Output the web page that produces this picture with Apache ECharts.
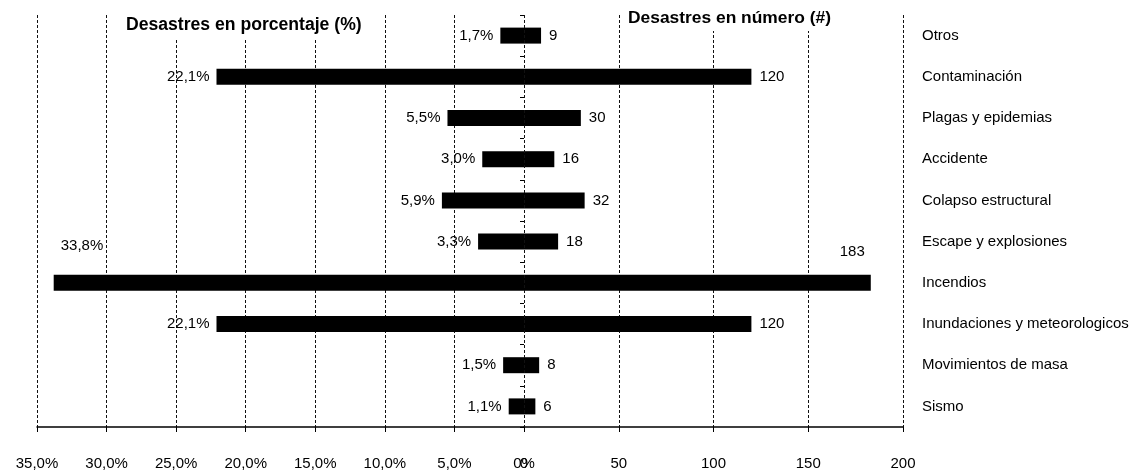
<!DOCTYPE html>
<html>
<head>
<meta charset="utf-8">
<script src="https://cdn.jsdelivr.net/npm/echarts@6/dist/echarts.min.js"></script>
<style>
html,body{margin:0;padding:0;background:#fff;}
#chart{width:1136px;height:472px;}
</style>
</head>
<body>
<div id="chart"></div>
<script>
// Data (top to bottom)
const categories = ['Otros','Contaminación','Plagas y epidemias','Accidente','Colapso estructural','Escape y explosiones','Incendios','Inundaciones y meteorologicos','Movimientos de masa','Sismo'];
const percentValues = [1.7, 22.1, 5.5, 3.0, 5.9, 3.3, 33.8, 22.1, 1.5, 1.1];
const countValues = [9, 120, 30, 16, 32, 18, 183, 120, 8, 6];
const percentTicks = {min: 0, max: 35, interval: 5};
const countTicks = {min: 0, max: 200, interval: 50};
const titlePercent = 'Desastres en porcentaje (%)';
const titleCount = 'Desastres en número (#)';

const FONT = '"Liberation Sans Narrow", "Liberation Sans", sans-serif';
const fmtPct = v => v.toFixed(1).replace('.', ',') + '%';

const chart = echarts.init(document.getElementById('chart'));
const splitStyle = {show: true, showMinLine: true, showMaxLine: true,
                    lineStyle: {color: '#111', width: 1, type: [3, 2]}};
const L = 37, Z = 524, R = 903, T = 15, B = 427;

const pctData = percentValues.map((v, i) => {
  const item = {value: v};
  if (categories[i] === 'Incendios') {
    item.label = {position: 'insideLeft', distance: 7, offset: [0, -37], color: '#000'};
  }
  return item;
});
const cntData = countValues.map((v, i) => {
  const item = {value: v};
  if (categories[i] === 'Incendios') {
    item.label = {position: 'insideRight', distance: 6, offset: [0, -31], color: '#000'};
  }
  return item;
});

chart.setOption({
  animation: false,
  backgroundColor: '#fff',
  textStyle: {fontFamily: FONT},
  title: [
    {text: titlePercent, left: 122, top: 14, padding: [2, 4, 4, 4], backgroundColor: '#fff',
     textStyle: {fontFamily: FONT, fontWeight: 'bold', fontSize: 17.6, color: '#000'}},
    {text: titleCount, left: 624, top: 8, padding: [2, 4, 4, 4], backgroundColor: '#fff',
     textStyle: {fontFamily: FONT, fontWeight: 'bold', fontSize: 17.4, color: '#000'}}
  ],
  grid: [
    {left: L, width: Z - L, top: T, height: B - T},
    {left: Z, width: R - Z, top: T, height: B - T}
  ],
  xAxis: [
    {type: 'value', gridIndex: 0, inverse: true, min: percentTicks.min, max: percentTicks.max, interval: percentTicks.interval,
     axisLine: {show: true, lineStyle: {color: '#000', width: 1.5}},
     axisTick: {show: true, length: 5, lineStyle: {color: '#000'}},
     splitLine: splitStyle,
     axisLabel: {margin: 29, fontSize: 15, color: '#000', fontFamily: FONT,
                 formatter: v => v === 0 ? '0%' : fmtPct(v)}},
    {type: 'value', gridIndex: 1, min: countTicks.min, max: countTicks.max, interval: countTicks.interval,
     axisLine: {show: true, lineStyle: {color: '#000', width: 1.5}},
     axisTick: {show: true, length: 5, lineStyle: {color: '#000'}},
     splitLine: splitStyle,
     axisLabel: {margin: 29, fontSize: 15, color: '#000', fontFamily: FONT}}
  ],
  yAxis: [
    {type: 'category', gridIndex: 0, data: categories, inverse: true,
     axisLine: {show: false}, axisTick: {show: false}, axisLabel: {show: false}},
    {type: 'category', gridIndex: 1, data: categories, inverse: true, position: 'left',
     axisLine: {show: false, onZero: false},
     axisTick: {show: true, length: 4, lineStyle: {color: '#000', type: 'solid'}},
     axisLabel: {show: false}},
    {type: 'category', gridIndex: 1, data: categories, inverse: true, position: 'right',
     axisLine: {show: false, onZero: false}, axisTick: {show: false},
     axisLabel: {show: true, margin: 19, align: 'left', fontSize: 15, color: '#000', fontFamily: FONT}}
  ],
  series: [
    {type: 'bar', xAxisIndex: 0, yAxisIndex: 0, data: pctData, barWidth: 16, z: 3,
     itemStyle: {color: '#000'},
     label: {show: true, position: 'left', distance: 7, color: '#000', fontSize: 15, fontFamily: FONT,
             formatter: p => fmtPct(p.value)}},
    {type: 'bar', xAxisIndex: 1, yAxisIndex: 1, data: cntData, barWidth: 16, z: 3,
     itemStyle: {color: '#000'},
     label: {show: true, position: 'right', distance: 8, color: '#000', fontSize: 15, fontFamily: FONT},
     markLine: {silent: true, symbol: 'none', label: {show: false}, animation: false,
                lineStyle: {color: '#111', width: 1, type: [3, 2]},
                data: [{xAxis: 0}]}}
  ]
});
</script>
</body>
</html>
